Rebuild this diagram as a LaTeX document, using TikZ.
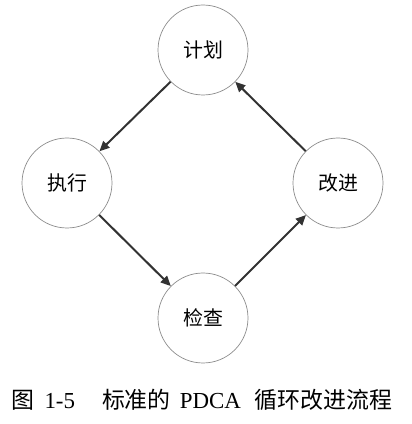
\documentclass[tikz,border=0pt]{standalone}
\usepackage{fontspec}
\setmainfont{Liberation Serif}
\newfontfamily\cjk{Noto Sans CJK SC}
\usepackage{xcolor}
\definecolor{pdcaring}{RGB}{140,140,140}
\definecolor{pdcaarrow}{RGB}{50,50,50}
\usetikzlibrary{arrows.meta}

\begin{document}
\begin{tikzpicture}[x=1bp, y=1bp,
  stage/.style={circle, draw=pdcaring, line width=0.7bp, minimum size=90bp,
    inner sep=0pt, font=\cjk\fontsize{20}{20}\selectfont},
  flow/.style={draw=pdcaarrow, line width=2bp,
    -{Triangle[length=10bp, width=9bp]}}]
  \useasboundingbox (0,0) rectangle (412,424);

  % Four stages
  \node[stage] (plan)  at (203,374) {计划};
  \node[stage] (do)    at (67,241)  {执行};
  \node[stage] (act)   at (338,241) {改进};
  \node[stage] (check) at (203,106) {检查};

  % Cycle
  \draw[flow] (plan)  -- (do);
  \draw[flow] (do)    -- (check);
  \draw[flow] (check) -- (act);
  \draw[flow] (act)   -- (plan);

  % Caption
  \node[font=\fontsize{23}{23}\selectfont, inner sep=0pt] (caption) at (202,24)
       {{\cjk 图}\hspace{10bp}1-5\hspace{27bp}{\cjk 标准的}\hspace{9bp}PDCA\hspace{14bp}{\cjk 循环改进流程}};
\end{tikzpicture}
\end{document}
